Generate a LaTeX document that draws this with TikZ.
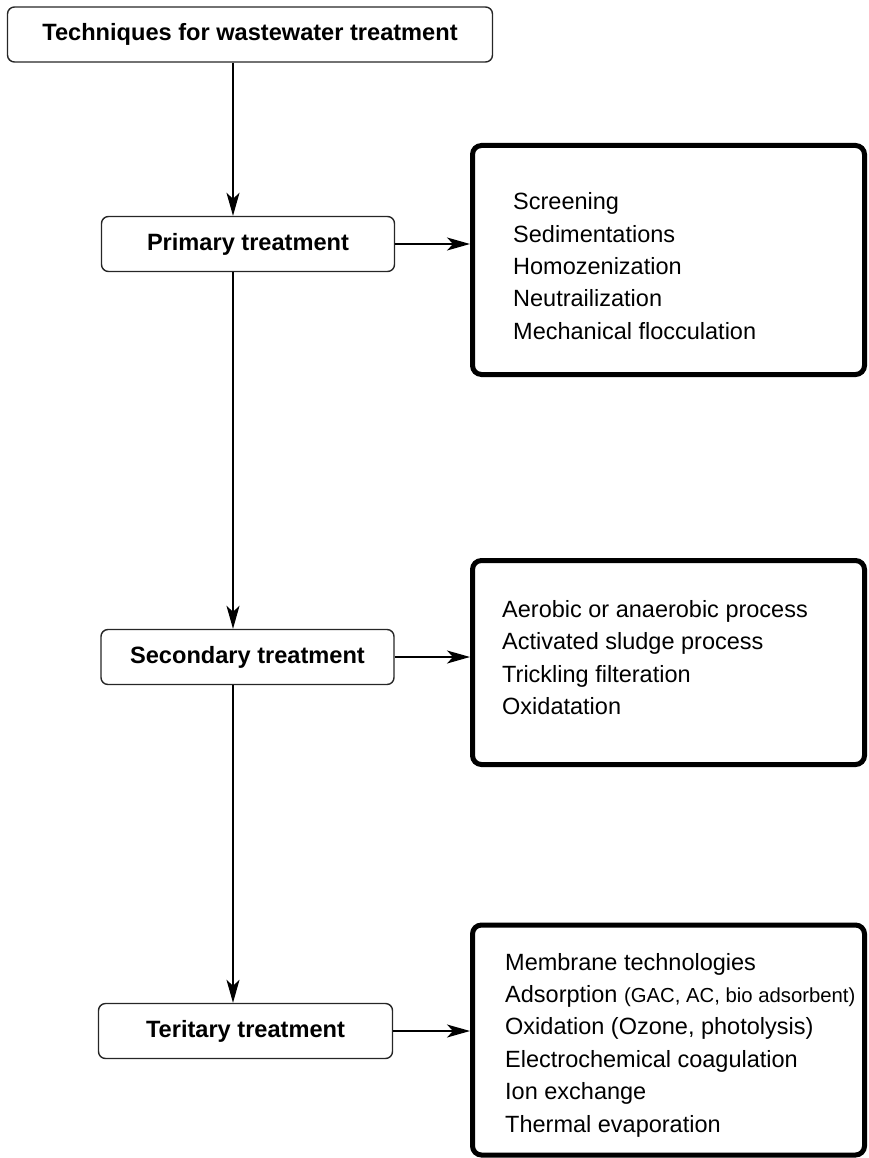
\documentclass[tikz,border=0pt]{standalone}
\usepackage{fontspec}
\setmainfont{Liberation Sans}
\usetikzlibrary{arrows.meta}
\usetikzlibrary{positioning}

\begin{document}
\begin{tikzpicture}[x=1pt,y=-1pt,
  stepbox/.style={draw=black!85, line width=1.4pt, rounded corners=7pt, inner sep=0pt,
    minimum height=55pt, font=\fontsize{23.6}{28}\selectfont\bfseries},
  listbox/.style={draw=black, line width=5pt, rounded corners=9pt, inner sep=0pt,
    minimum width=392pt},
  listtext/.style={inner sep=0pt, align=left, anchor=west,
    font=\fontsize{23.5}{32.4}\selectfont},
  arr/.style={line width=1.3pt, -{Stealth[length=23pt,width=13pt,inset=6pt]}}]
\useasboundingbox (0,0) rectangle (869,1158);

  \coordinate (spine) at (233,0);
  \node[stepbox, minimum width=485pt] (title) at (250,34.5) {Techniques for wastewater treatment};
  \node[stepbox, minimum width=293pt] (prim) at (248,244) {Primary treatment};
  \node[stepbox, minimum width=293pt] (sec) at (247.5,657) {Secondary treatment};
  \node[stepbox, minimum width=294pt] (tert) at (245.5,1031) {Teritary treatment};

  \node[listbox, minimum height=229pt] (primlist) at (668.5,260) {};
  \node[listbox, minimum height=204pt] (seclist) at (668.5,662.5) {};
  \node[listbox, minimum height=230pt] (tertlist) at (668.5,1040) {};

  \node[listtext] (primtext) at (513,266)
    {Screening\\Sedimentations\\Homozenization\\Neutrailization\\Mechanical flocculation};
  \node[listtext] (sectext) at (502,657.5)
    {Aerobic or anaerobic process\\Activated sludge process\\Trickling filteration\\Oxidatation};
  \node[listtext] (terttext) at (505,1045)
    {Membrane technologies\\Adsorption {\fontsize{20.3}{32.4}\selectfont(GAC, AC, bio adsorbent)}\\%
     Oxidation (Ozone, photolysis)\\Electrochemical coagulation\\Ion exchange\\Thermal evaporation};

  \draw[arr] (title.south -| spine) -- (prim.north -| spine);
  \draw[arr] (prim.south -| spine) -- (sec.north -| spine);
  \draw[arr] (sec.south -| spine) -- (tert.north -| spine);
  \draw[arr] (prim.east) -- (prim.east -| primlist.west);
  \draw[arr] (sec.east) -- (sec.east -| seclist.west);
  \draw[arr] (tert.east) -- (tert.east -| tertlist.west);
\end{tikzpicture}
\end{document}
